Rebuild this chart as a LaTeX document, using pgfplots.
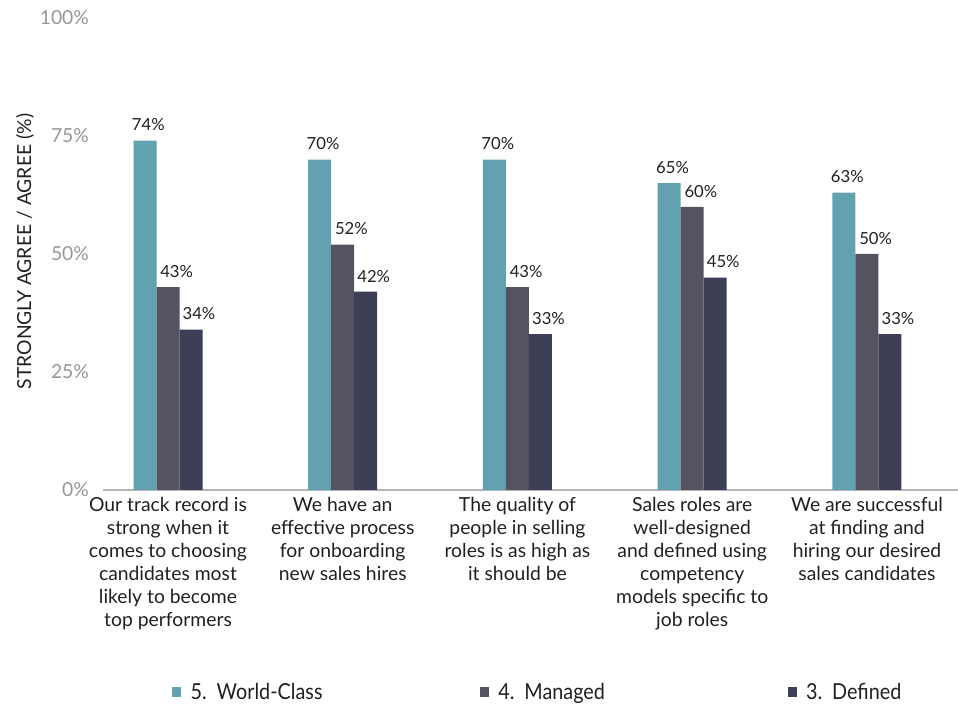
\documentclass[border=0pt]{standalone}
\usepackage{pgfplots}
\pgfplotsset{compat=1.18}
\usepackage{graphicx}
\usepackage{fontspec}
\setmainfont{Lato}

\definecolor{worldclass}{RGB}{98,162,176}
\definecolor{managed}{RGB}{84,83,95}
\definecolor{defined}{RGB}{60,63,85}
\definecolor{ticktext}{RGB}{150,150,150}
\definecolor{bodytext}{RGB}{35,31,32}
\definecolor{baseline}{RGB}{180,180,180}

\begin{document}
\begin{tikzpicture}
\path[use as bounding box] (0,0) rectangle (718.5pt,528.75pt);
\begin{axis}[
  at={(77.25pt,161.25pt)}, anchor=south west,
  scale only axis, width=641.25pt, height=354pt,
  ybar=0pt, bar width=17.25pt,
  xmin=-0.372, xmax=4.521, ymin=0, ymax=100,
  axis x line*=bottom, axis y line*=left,
  x axis line style={draw=baseline, line width=1.5pt, -},
  y axis line style={draw=none},
  major tick length=0pt,
  xtick={0,1,2,3,4},
  xticklabels={
    {Our track record is\\strong when it\\comes to choosing\\candidates most\\likely to become\\top performers},
    {We have an\\effective process\\for onboarding\\new sales hires},
    {The quality of\\people in selling\\roles is as high as\\it should be},
    {Sales roles are\\well-designed\\and defined using\\competency\\models specific to\\job roles},
    {We are successful\\at finding and\\hiring our desired\\sales candidates}},
  xticklabel style={align=center, font=\fontsize{14.5}{17.25}\selectfont,
    text=bodytext, inner sep=0pt, yshift=-5pt},
  ytick={0,25,50,75,100},
  yticklabel={\pgfmathprintnumber{\tick}\%},
  yticklabel style={font=\fontsize{14.5}{16}\selectfont, text=ticktext, xshift=-7pt},
  /pgf/number format/assume math mode=true,
  ylabel={STRONGLY AGREE / AGREE (\%)},
  ylabel style={font=\fontsize{14.5}{16}\selectfont, text=bodytext,
    at={(axis description cs:-0.0912,0.505)}, anchor=center},
  nodes near coords={\pgfmathprintnumber{\pgfplotspointmeta}\%},
  every node near coord/.append style={font=\fontsize{12.5}{14}\selectfont,
    text=bodytext, anchor=south, inner sep=2pt, yshift=5pt},
  legend columns=3,
  legend style={at={(0.0807,-0.428)}, anchor=west, draw=none, fill=none,
    inner sep=0pt, font=\fontsize{16.5}{18}\selectfont, text=bodytext,
    /tikz/every even column/.append style={column sep=0pt},
    nodes={text width=224pt, align=left, inner sep=0pt}},
  legend image code/.code={\fill[#1] (0pt,-3.4pt) rectangle (6.8pt,3.4pt);},
  legend cell align=left,
]
\addplot[fill=worldclass, draw=none,
  every node near coord/.append style={xshift=2.5pt}]
  coordinates {(0,74) (1,70) (2,70) (3,65) (4,63)};
\addplot[fill=managed, draw=none,
  every node near coord/.append style={xshift=6.5pt}]
  coordinates {(0,43) (1,52) (2,43) (3,60) (4,50)};
\addplot[fill=defined, draw=none,
  every node near coord/.append style={xshift=6pt}]
  coordinates {(0,34) (1,42) (2,33) (3,45) (4,33)};
\legend{\hspace{7pt}\scalebox{0.9}[1]{5. World-Class},
        \hspace{7pt}\scalebox{0.9}[1]{4. Managed},
        \hspace{7pt}\scalebox{0.9}[1]{3. Defined}}
\end{axis}
\end{tikzpicture}
\end{document}
